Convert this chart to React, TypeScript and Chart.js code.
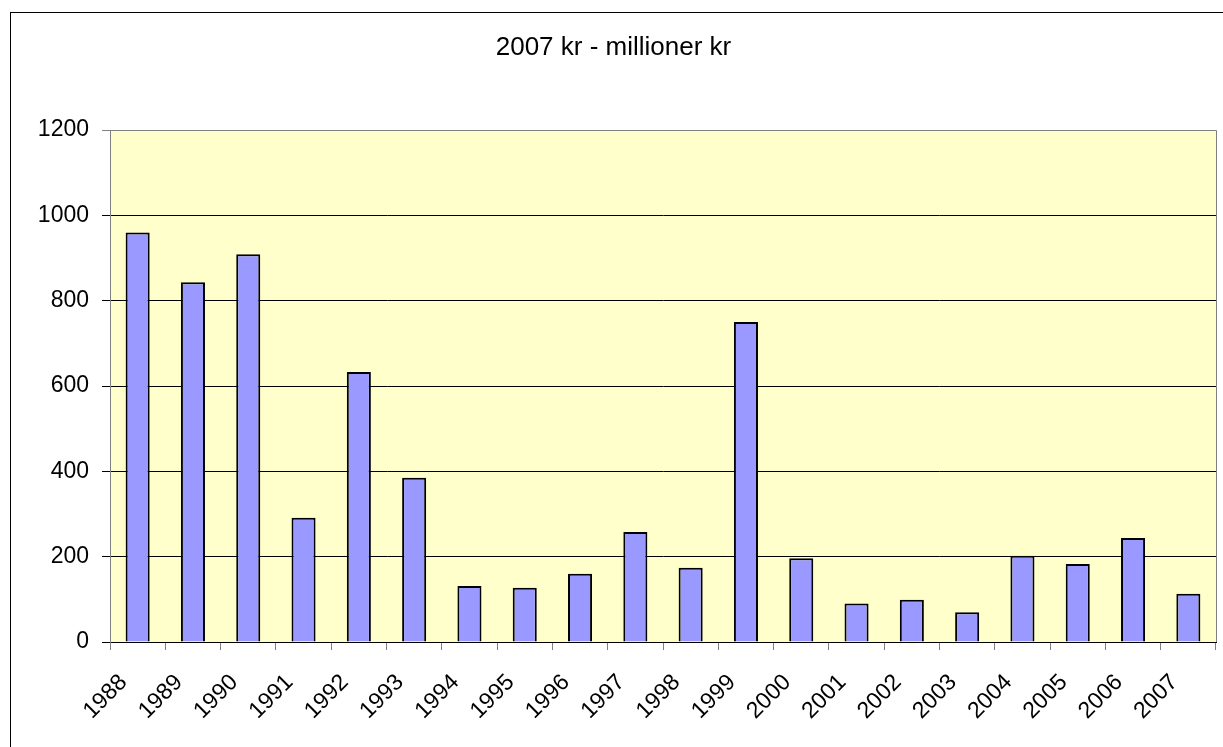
import React, { useEffect, useRef } from "react";
import { Chart, registerables } from "chart.js";

Chart.register(...registerables);

const years = ["1988", "1989", "1990", "1991", "1992", "1993", "1994", "1995", "1996", "1997", "1998", "1999", "2000", "2001", "2002", "2003", "2004", "2005", "2006", "2007"];
const values = [960, 843, 909, 291, 633, 385, 131, 127, 160, 258, 174, 750, 196, 90, 99, 70, 202, 183, 244, 113];
const titleText = "2007 kr - millioner kr";
const yMin = 0;
const yMax = 1200;
const yStep = 200;

const FONT = "'Liberation Sans', Arial, Helvetica, sans-serif";

const plotBg = {
  id: "plotBg",
  beforeDraw(chart: any) {
    const { ctx, chartArea } = chart;
    if (!chartArea) return;
    ctx.save();
    ctx.fillStyle = "#FFFFCC";
    ctx.fillRect(chartArea.left, chartArea.top, chartArea.right - chartArea.left, chartArea.bottom - chartArea.top);
    ctx.restore();
  },
  afterDraw(chart: any) {
    const { ctx, chartArea } = chart;
    ctx.save();
    ctx.strokeStyle = "#808080";
    ctx.lineWidth = 1;
    ctx.beginPath();
    const t = Math.round(chartArea.top) + 0.5;
    const r = Math.round(chartArea.right) + 0.5;
    ctx.moveTo(chartArea.left, t);
    ctx.lineTo(r, t);
    ctx.lineTo(r, chartArea.bottom);
    ctx.stroke();
    ctx.restore();
  },
};

export default function App() {
  const ref = useRef<HTMLCanvasElement | null>(null);

  useEffect(() => {
    if (!ref.current) return;
    const chart = new Chart(ref.current, {
      type: "bar",
      data: {
        labels: years,
        datasets: [
          {
            data: values,
            backgroundColor: "#9999FF",
            borderColor: "#000000",
            borderWidth: 2,
            barPercentage: 0.435,
            categoryPercentage: 1,
          },
        ],
      },
      options: {
        responsive: false,
        animation: false,
        devicePixelRatio: 1,
        layout: { padding: { left: 0, right: 35, top: 0, bottom: 0 } },
        plugins: {
          legend: { display: false },
          tooltip: { enabled: false },
          title: {
            display: true,
            text: titleText,
            color: "#000000",
            font: { family: FONT, size: 26, weight: "normal" },
            padding: { top: 19, bottom: 66.8 },
          },
        },
        scales: {
          x: {
            grid: {
              drawOnChartArea: false,
              drawTicks: true,
              tickLength: 8,
              color: "#808080",
              offset: true,
            },
            border: { color: "#000000", width: 1 },
            ticks: {
              color: "#000000",
              font: { family: FONT, size: 23 },
              minRotation: 45,
              maxRotation: 45,
              autoSkip: false,
              padding: 19,
              labelOffset: -14,
            },
            afterFit(scale: any) {
              scale.height = 131;
            },
          },
          y: {
            min: yMin,
            max: yMax,
            grid: {
              color: (c: any) => (c.tick && c.tick.value === yMax ? "#808080" : "#000000"),
              tickLength: 8,
              lineWidth: 1,
            },
            border: { color: "#808080", width: 1 },
            ticks: {
              stepSize: yStep,
              color: "#000000",
              font: { family: FONT, size: 23 },
              padding: 13,
              callback: (v: any) => String(v),
            },
            afterFit(scale: any) {
              scale.width = 99;
            },
          },
        },
      },
      plugins: [plotBg],
    });
    return () => chart.destroy();
  }, []);

  return (
    <div style={{ position: "fixed", left: 0, top: 0, width: 1223, height: 747, overflow: "hidden", background: "#fff" }}>
      <div style={{ position: "absolute", left: 10, top: 12, width: 1240, height: 760, border: "1px solid #000", background: "#fff" }}>
        <canvas ref={ref} width={1240} height={760} style={{ display: "block", width: 1240, height: 760 }} />
      </div>
    </div>
  );
}
